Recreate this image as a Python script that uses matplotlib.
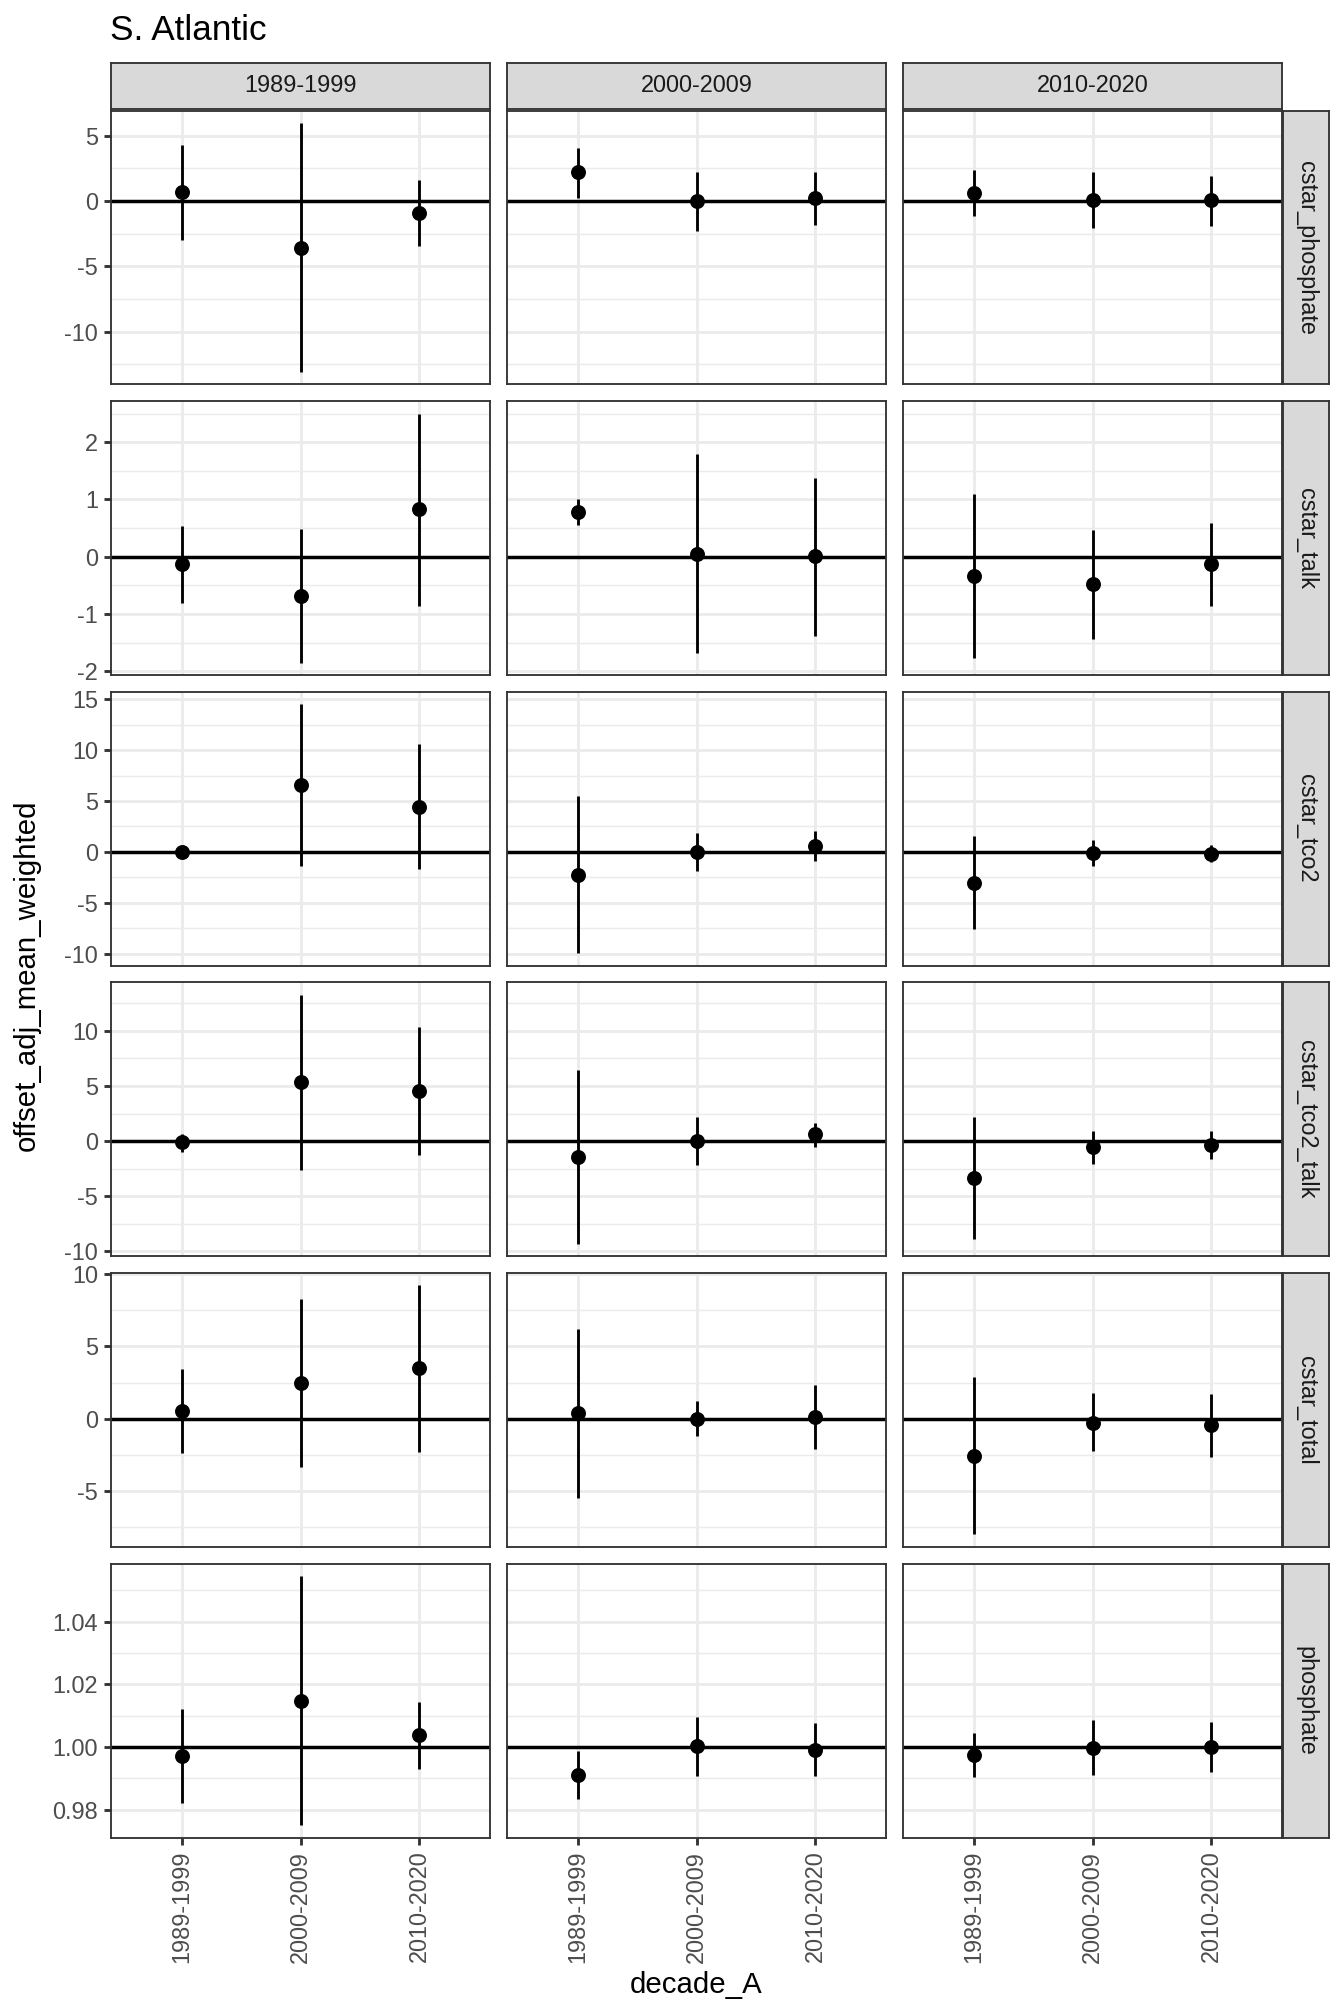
import matplotlib
matplotlib.use('Agg')
import matplotlib.pyplot as plt
from matplotlib.ticker import MultipleLocator

plt.rcParams['font.family'] = ['Liberation Sans', 'DejaVu Sans']
plt.rcParams['axes.unicode_minus'] = False

# facet columns / x categories
decades = ['1989-1999', '2000-2009', '2010-2020']
variables = ['cstar_phosphate', 'cstar_talk', 'cstar_tco2',
             'cstar_tco2_talk', 'cstar_total', 'phosphate']

# values per variable: one list per facet column, 3 x-categories each
mean_vals = {
    'cstar_phosphate': [[0.66, -3.58, -0.91], [2.18, -0.03, 0.18], [0.58, 0.05, 0.03]],
    'cstar_talk': [[-0.13, -0.68, 0.83], [0.78, 0.05, 0.01], [-0.34, -0.48, -0.13]],
    'cstar_tco2': [[0.0, 6.58, 4.46], [-2.25, 0.0, 0.62], [-3.06, -0.07, -0.16]],
    'cstar_tco2_talk': [[-0.12, 5.33, 4.55], [-1.47, 0.03, 0.60], [-3.35, -0.57, -0.36]],
    'cstar_total': [[0.55, 2.47, 3.47], [0.37, 0.0, 0.11], [-2.58, -0.27, -0.46]],
    'phosphate': [[0.9972, 1.0148, 1.0037], [0.9911, 1.0003, 0.9992], [0.9975, 0.9998, 0.9999]],
}
lower_vals = {
    'cstar_phosphate': [[-3.0, -13.1, -3.43], [0.25, -2.31, -1.85], [-1.14, -2.06, -1.93]],
    'cstar_talk': [[-0.81, -1.85, -0.86], [0.55, -1.69, -1.38], [-1.77, -1.43, -0.86]],
    'cstar_tco2': [[-0.4, -1.40, -1.73], [-9.97, -1.86, -0.88], [-7.62, -1.37, -1.01]],
    'cstar_tco2_talk': [[-0.96, -2.63, -1.26], [-9.31, -2.16, -0.57], [-8.86, -2.04, -1.62]],
    'cstar_total': [[-2.35, -3.33, -2.31], [-5.48, -1.19, -2.08], [-8.01, -2.26, -2.63]],
    'phosphate': [[0.9821, 0.9751, 0.9931], [0.9834, 0.9907, 0.9909], [0.9904, 0.9910, 0.9919]],
}
upper_vals = {
    'cstar_phosphate': [[4.31, 5.96, 1.62], [4.06, 2.21, 2.18], [2.34, 2.18, 1.93]],
    'cstar_talk': [[0.54, 0.49, 2.50], [1.01, 1.79, 1.38], [1.10, 0.47, 0.58]],
    'cstar_tco2': [[0.4, 14.53, 10.62], [5.47, 1.82, 2.08], [1.53, 1.20, 0.65]],
    'cstar_tco2_talk': [[0.63, 13.26, 10.36], [6.41, 2.16, 1.68], [2.19, 0.96, 0.90]],
    'cstar_total': [[3.40, 8.26, 9.22], [6.21, 1.21, 2.31], [2.85, 1.76, 1.71]],
    'phosphate': [[1.0122, 1.0546, 1.0143], [0.9988, 1.0095, 1.0076], [1.0045, 1.0086, 1.0079]],
}
ref_line = {'cstar_phosphate': 0, 'cstar_talk': 0, 'cstar_tco2': 0,
            'cstar_tco2_talk': 0, 'cstar_total': 0, 'phosphate': 1}
y_step = {'cstar_phosphate': 5, 'cstar_talk': 1, 'cstar_tco2': 5,
          'cstar_tco2_talk': 5, 'cstar_total': 5, 'phosphate': 0.02}

W, H = 1344, 2016
fig = plt.figure(figsize=(7, 10.5), dpi=192)


def px_box(x, y, w, h):
    # pixel box (top-left origin) -> figure fraction
    return [x / W, 1 - (y + h) / H, w / W, h / H]


col_x = [111, 507, 903]
pw = 379
row_y = [110.5 + i * 290.6 for i in range(6)]
ph = 274

border = '#333333'
lw = 1.07
frame_lw = 0.7
xpos = [1, 2, 3]

for r, var in enumerate(variables):
    lows = [v for col in lower_vals[var] for v in col] + [ref_line[var]]
    highs = [v for col in upper_vals[var] for v in col] + [ref_line[var]]
    lo, hi = min(lows), max(highs)
    pad = 0.05 * (hi - lo)
    for c, dec in enumerate(decades):
        ax = fig.add_axes(px_box(col_x[c], row_y[r], pw, ph))
        ax.set_xlim(0.4, 3.6)
        ax.set_ylim(lo - pad, hi + pad)
        ax.yaxis.set_major_locator(MultipleLocator(y_step[var]))
        ax.yaxis.set_minor_locator(MultipleLocator(y_step[var] / 2))
        ax.set_xticks(xpos)
        ax.grid(which='major', color='#EBEBEB', lw=lw)
        ax.grid(which='minor', axis='y', color='#EBEBEB', lw=lw / 2)
        ax.set_axisbelow(True)
        for s in ax.spines.values():
            s.set_color(border)
            s.set_linewidth(frame_lw)

        ax.axhline(ref_line[var], color='black', lw=1.3, zorder=2)
        ax.vlines(xpos, lower_vals[var][c], upper_vals[var][c], color='black', lw=lw, zorder=3)
        ax.plot(xpos, mean_vals[var][c], 'o', color='black', ms=4.6, zorder=4)

        ax.tick_params(which='minor', length=0)
        ax.tick_params(which='major', length=2.75, width=lw, color=border,
                       labelcolor='#4D4D4D', labelsize=8.8, pad=2.2)
        if c > 0:
            ax.tick_params(axis='y', length=0, labelleft=False)
        if r < len(variables) - 1:
            ax.tick_params(axis='x', length=0, labelbottom=False)
        else:
            ax.set_xticklabels(decades, rotation=90)

        # top strips
        if r == 0:
            sax = fig.add_axes(px_box(col_x[c], 63, pw, 46))
            sax.set_facecolor('#D9D9D9')
            sax.set_xticks([]); sax.set_yticks([])
            for s in sax.spines.values():
                s.set_color(border); s.set_linewidth(frame_lw)
            sax.text(0.5, 0.5, dec, ha='center', va='center', size=8.8,
                     color='#1A1A1A', transform=sax.transAxes)

    # right strip
    sax = fig.add_axes(px_box(1283, row_y[r], 46, ph))
    sax.set_facecolor('#D9D9D9')
    sax.set_xticks([]); sax.set_yticks([])
    for s in sax.spines.values():
        s.set_color(border); s.set_linewidth(frame_lw)
    sax.text(0.5, 0.5, var, ha='center', va='center', size=8.8, rotation=-90,
             color='#1A1A1A', transform=sax.transAxes)

fig.text(110 / W, 1 - 40 / H, 'S. Atlantic', size=13.2, va='baseline', ha='left')
fig.text(27 / W, 1 - 975 / H, 'offset_adj_mean_weighted', size=11,
         rotation=90, ha='center', va='center')
fig.text(696 / W, 1 - 1985 / H, 'decade_A', size=11, ha='center', va='center')

fig.savefig('out.png', dpi=192)
